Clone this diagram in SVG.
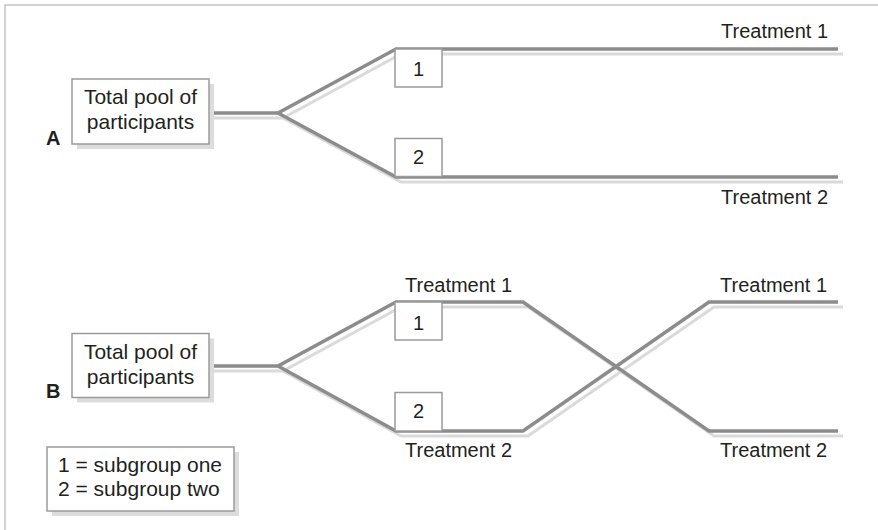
<svg xmlns="http://www.w3.org/2000/svg" width="878" height="530" viewBox="0 0 878 530">
<style>
text{font-family:"Liberation Sans",Arial,sans-serif;font-size:20px;fill:#231f20}
.big{font-size:21px}
.lbl{font-weight:bold}
.box{fill:#fff;stroke:#9a9a9a;stroke-width:1.5}
.shd{fill:#dcdcdc}
.dk{fill:none;stroke:#8c8c8c;stroke-width:3.5;stroke-linejoin:miter}
.lt{fill:none;stroke:#dadada;stroke-width:3;stroke-linejoin:miter}
.frame{fill:none;stroke:#c4c4c4;stroke-width:1.5}
</style>
<rect width="878" height="530" fill="#fff"/>
<path class="frame" d="M5,530 V5 H878"/>
<g id="connectors">
  <g transform="translate(5,5)">
    <path class="lt" d="M209,113 H278 L396,49 H838"/>
    <path class="lt" d="M278,113 L396,177 H838"/>
    <path class="lt" d="M209,366 H278 L396,302 H523 L709,431 H838"/>
    <path class="lt" d="M278,366 L396,431 H523 L709,302 H838"/>
  </g>
  <path class="dk" d="M209,113 H278 L396,49 H838"/>
  <path class="dk" d="M278,113 L396,177 H838"/>
  <path class="dk" d="M209,366 H278 L396,302 H523 L709,431 H838"/>
  <path class="dk" d="M278,366 L396,431 H523 L709,302 H838"/>
</g>
<g id="poolA">
  <rect class="shd" x="77" y="84" width="137" height="65"/>
  <rect class="box" x="72" y="79" width="137" height="65"/>
  <text class="big" x="140.5" y="104" text-anchor="middle">Total pool of</text>
  <text class="big" x="140.5" y="128.5" text-anchor="middle">participants</text>
</g>
<g id="labelA"><text class="lbl" x="46" y="145">A</text></g>
<g id="subA1">
  <rect class="box" x="395" y="49" width="47" height="38"/>
  <text x="418.5" y="76" text-anchor="middle">1</text>
</g>
<g id="subA2">
  <rect class="box" x="395" y="138.5" width="47" height="38"/>
  <text x="418.5" y="164" text-anchor="middle">2</text>
</g>
<g id="treatA1"><text x="721" y="37.5">Treatment 1</text></g>
<g id="treatA2"><text x="721" y="203.5">Treatment 2</text></g>
<g id="poolB">
  <rect class="shd" x="77" y="338.5" width="137" height="64"/>
  <rect class="box" x="72" y="333.5" width="137" height="64"/>
  <text class="big" x="140.5" y="359" text-anchor="middle">Total pool of</text>
  <text class="big" x="140.5" y="383.5" text-anchor="middle">participants</text>
</g>
<g id="labelB"><text class="lbl" x="46" y="398">B</text></g>
<g id="subB1">
  <rect class="box" x="395" y="302" width="47" height="38"/>
  <text x="418.5" y="330" text-anchor="middle">1</text>
</g>
<g id="subB2">
  <rect class="box" x="395" y="392.5" width="47" height="38.5"/>
  <text x="418.5" y="418" text-anchor="middle">2</text>
</g>
<g id="treatB1mid"><text x="405" y="291.5">Treatment 1</text></g>
<g id="treatB2mid"><text x="405" y="457">Treatment 2</text></g>
<g id="treatB1"><text x="720" y="292">Treatment 1</text></g>
<g id="treatB2"><text x="720" y="457">Treatment 2</text></g>
<g id="legend">
  <rect class="shd" x="52" y="452" width="187" height="64"/>
  <rect class="box" x="47" y="447" width="187" height="64"/>
  <text class="big" x="58" y="472">1 = subgroup one</text>
  <text class="big" x="58" y="496">2 = subgroup two</text>
</g>
</svg>
